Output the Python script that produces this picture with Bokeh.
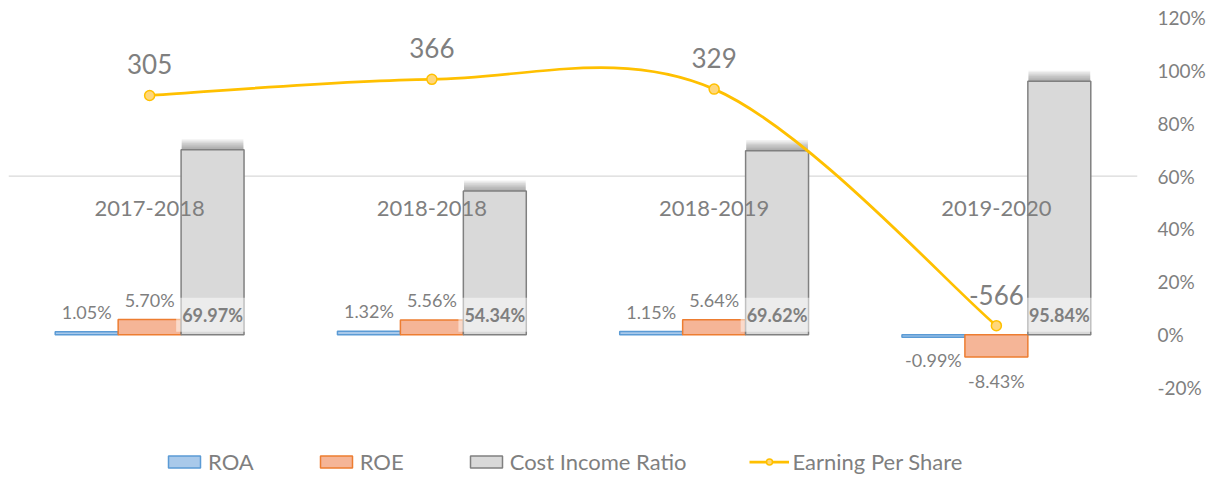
from bokeh.plotting import figure
from bokeh.models import (Range1d, FixedTicker, PrintfTickFormatter, Span,
                          ColumnDataSource, Legend, LegendItem)
from bokeh.transform import dodge
from bokeh.core.properties import value
from bokeh.embed import file_html
from bokeh.resources import INLINE

# ---------------- data ----------------
periods = ["2017-2018", "2018-2018", "2018-2019", "2019-2020"]
roa = [1.05, 1.32, 1.15, -0.99]
roe = [5.70, 5.56, 5.64, -8.43]
cir = [69.97, 54.34, 69.62, 95.84]
eps = [305, 366, 329, -566]
pct_ticks = [-20, 0, 20, 40, 60, 80, 100, 120]
eps_axis = (-800, 600)

# ---------------- layout / style ----------------
FONT = "Lato"
GREY = "#7F7F7F"
BW = 0.223
W, H = 1210, 479
TOP, LEFT, RIGHT = 17, 8, 73
AXIS_PX = 370          # pixel height of the -20%..120% span
PAD_PX = H - TOP - AXIS_PX   # room below the axis span (legend area)

def extend(lo, hi):
    return lo - (hi - lo) * PAD_PX / AXIS_PX, hi

xc = [i + 0.5 for i in range(len(periods))]

p = figure(width=W, height=H,
           x_range=Range1d(0, len(periods)),
           y_range=Range1d(*extend(pct_ticks[0], pct_ticks[-1])),
           output_backend="svg", toolbar_location=None,
           y_axis_location="right", x_axis_location=None,
           min_border_left=LEFT, min_border_top=TOP, min_border_bottom=0,
           min_border_right=RIGHT, outline_line_color=None)
p.extra_y_ranges = {"eps": Range1d(*extend(*eps_axis))}
p.grid.visible = False

ax = p.yaxis[0]
ax.ticker = FixedTicker(ticks=pct_ticks)
ax.formatter = PrintfTickFormatter(format="%d%%")
ax.axis_line_color = None
ax.major_tick_line_color = None
ax.minor_tick_line_color = None
ax.major_tick_out = 0
ax.major_tick_in = 0
ax.major_label_standoff = 20
ax.major_label_text_font = FONT
ax.major_label_text_font_size = "19px"
ax.major_label_text_color = GREY

# category axis line at EPS zero
p.add_layout(Span(location=0, dimension="width", y_range_name="eps",
                  line_color="#D9D9D9", line_width=1.2, level="underlay"))

def fmt(v):
    return f"{v:.2f}%"

src = ColumnDataSource(dict(
    x=xc, period=periods, roa=roa, roe=roe, cir=cir, eps=eps,
    roa_txt=[fmt(v) for v in roa], roe_txt=[fmt(v) for v in roe],
    cir_txt=[fmt(v) for v in cir], eps_txt=[str(v) for v in eps],
    roa_off=[-20 if v >= 0 else 23 for v in roa],
    roe_off=[-20 if v >= 0 else 24 for v in roe],
    zero=[0] * len(xc),
))

r_roa = p.vbar(x=dodge("x", -BW), top="roa", bottom=0, width=BW, source=src,
               fill_color="#A9C9EA", line_color="#5B9BD5", line_width=1.5)
r_roe = p.vbar(x=dodge("x", 0), top="roe", bottom=0, width=BW, source=src,
               fill_color="#F5B597", line_color="#ED7D31", line_width=1.5)

# soft shadow above cost-income bars
for d in [4.0, 3.5, 3.0, 2.5, 2.0, 1.5, 1.0, 0.5]:
    sh = ColumnDataSource(dict(x=xc, b=cir, t=[v + d for v in cir]))
    p.vbar(x=dodge("x", BW), top="t", bottom="b", width=BW * 0.98, source=sh,
           fill_color="#4A4A4A", fill_alpha=0.075, line_color=None)

r_cir = p.vbar(x=dodge("x", BW), top="cir", bottom=0, width=BW, source=src,
               fill_color="#D9D9D9", line_color="#808080", line_width=1.5)

# data labels
p.text(x=dodge("x", -BW), y="roa", text="roa_txt", y_offset="roa_off", source=src,
       text_align="center", text_baseline="middle", text_font=value(FONT),
       text_font_size="18px", text_color=GREY)
p.text(x=dodge("x", 0), y="roe", text="roe_txt", y_offset="roe_off", source=src,
       text_align="center", text_baseline="middle", text_font=value(FONT),
       text_font_size="18px", text_color=GREY)
p.text(x=dodge("x", BW), y="zero", text="cir_txt", y_offset=-20, source=src,
       text_align="center", text_baseline="middle", text_font=value(FONT),
       text_font_size="18px", text_font_style="bold", text_color=GREY,
       background_fill_color="white", background_fill_alpha=0.5, padding=6)

# category labels under the EPS zero line
p.text(x="x", y="zero", text="period", y_offset=32, source=src, y_range_name="eps",
       text_align="center", text_baseline="middle", text_font=value(FONT),
       text_font_size="22px", text_color=GREY)

# smoothed EPS line (Catmull-Rom style Bezier segments through the data points)
n = len(eps)
def tang(i):
    a, b = max(i - 1, 0), min(i + 1, n - 1)
    return (xc[b] - xc[a]) / 6.0, (eps[b] - eps[a]) / 6.0

bz = dict(x0=[], y0=[], x1=[], y1=[], cx0=[], cy0=[], cx1=[], cy1=[])
for i in range(n - 1):
    t0, t1 = tang(i), tang(i + 1)
    bz["x0"].append(xc[i]); bz["y0"].append(eps[i])
    bz["x1"].append(xc[i + 1]); bz["y1"].append(eps[i + 1])
    bz["cx0"].append(xc[i] + t0[0]); bz["cy0"].append(eps[i] + t0[1])
    bz["cx1"].append(xc[i + 1] - t1[0]); bz["cy1"].append(eps[i + 1] - t1[1])
r_bez = p.bezier(x0="x0", y0="y0", x1="x1", y1="y1", cx0="cx0", cy0="cy0",
                 cx1="cx1", cy1="cy1", source=ColumnDataSource(bz),
                 y_range_name="eps", line_color="#FFC000", line_width=2.75)
r_pts = p.scatter(x="x", y="eps", source=src, y_range_name="eps", size=10,
                  fill_color="#FFD77A", line_color="#FFC000", line_width=1.5)

p.text(x="x", y="eps", text="eps_txt", y_offset=-31, source=src, y_range_name="eps",
       text_align="center", text_baseline="middle", text_font=value(FONT),
       text_font_size="26px", text_color=GREY)

legend = Legend(items=[
    LegendItem(label="ROA", renderers=[r_roa]),
    LegendItem(label="ROE", renderers=[r_roe]),
    LegendItem(label="Cost Income Ratio", renderers=[r_cir]),
    LegendItem(label="Earning Per Share", renderers=[r_bez, r_pts]),
], location=(156, 4), orientation="horizontal", glyph_width=40, glyph_height=15,
   label_height=24, label_standoff=4, spacing=62, padding=0, margin=0,
   border_line_color=None, background_fill_alpha=0,
   label_text_font=FONT, label_text_font_size="22px", label_text_color=GREY)
p.add_layout(legend)

open("out.html", "w").write(file_html(p, INLINE))
